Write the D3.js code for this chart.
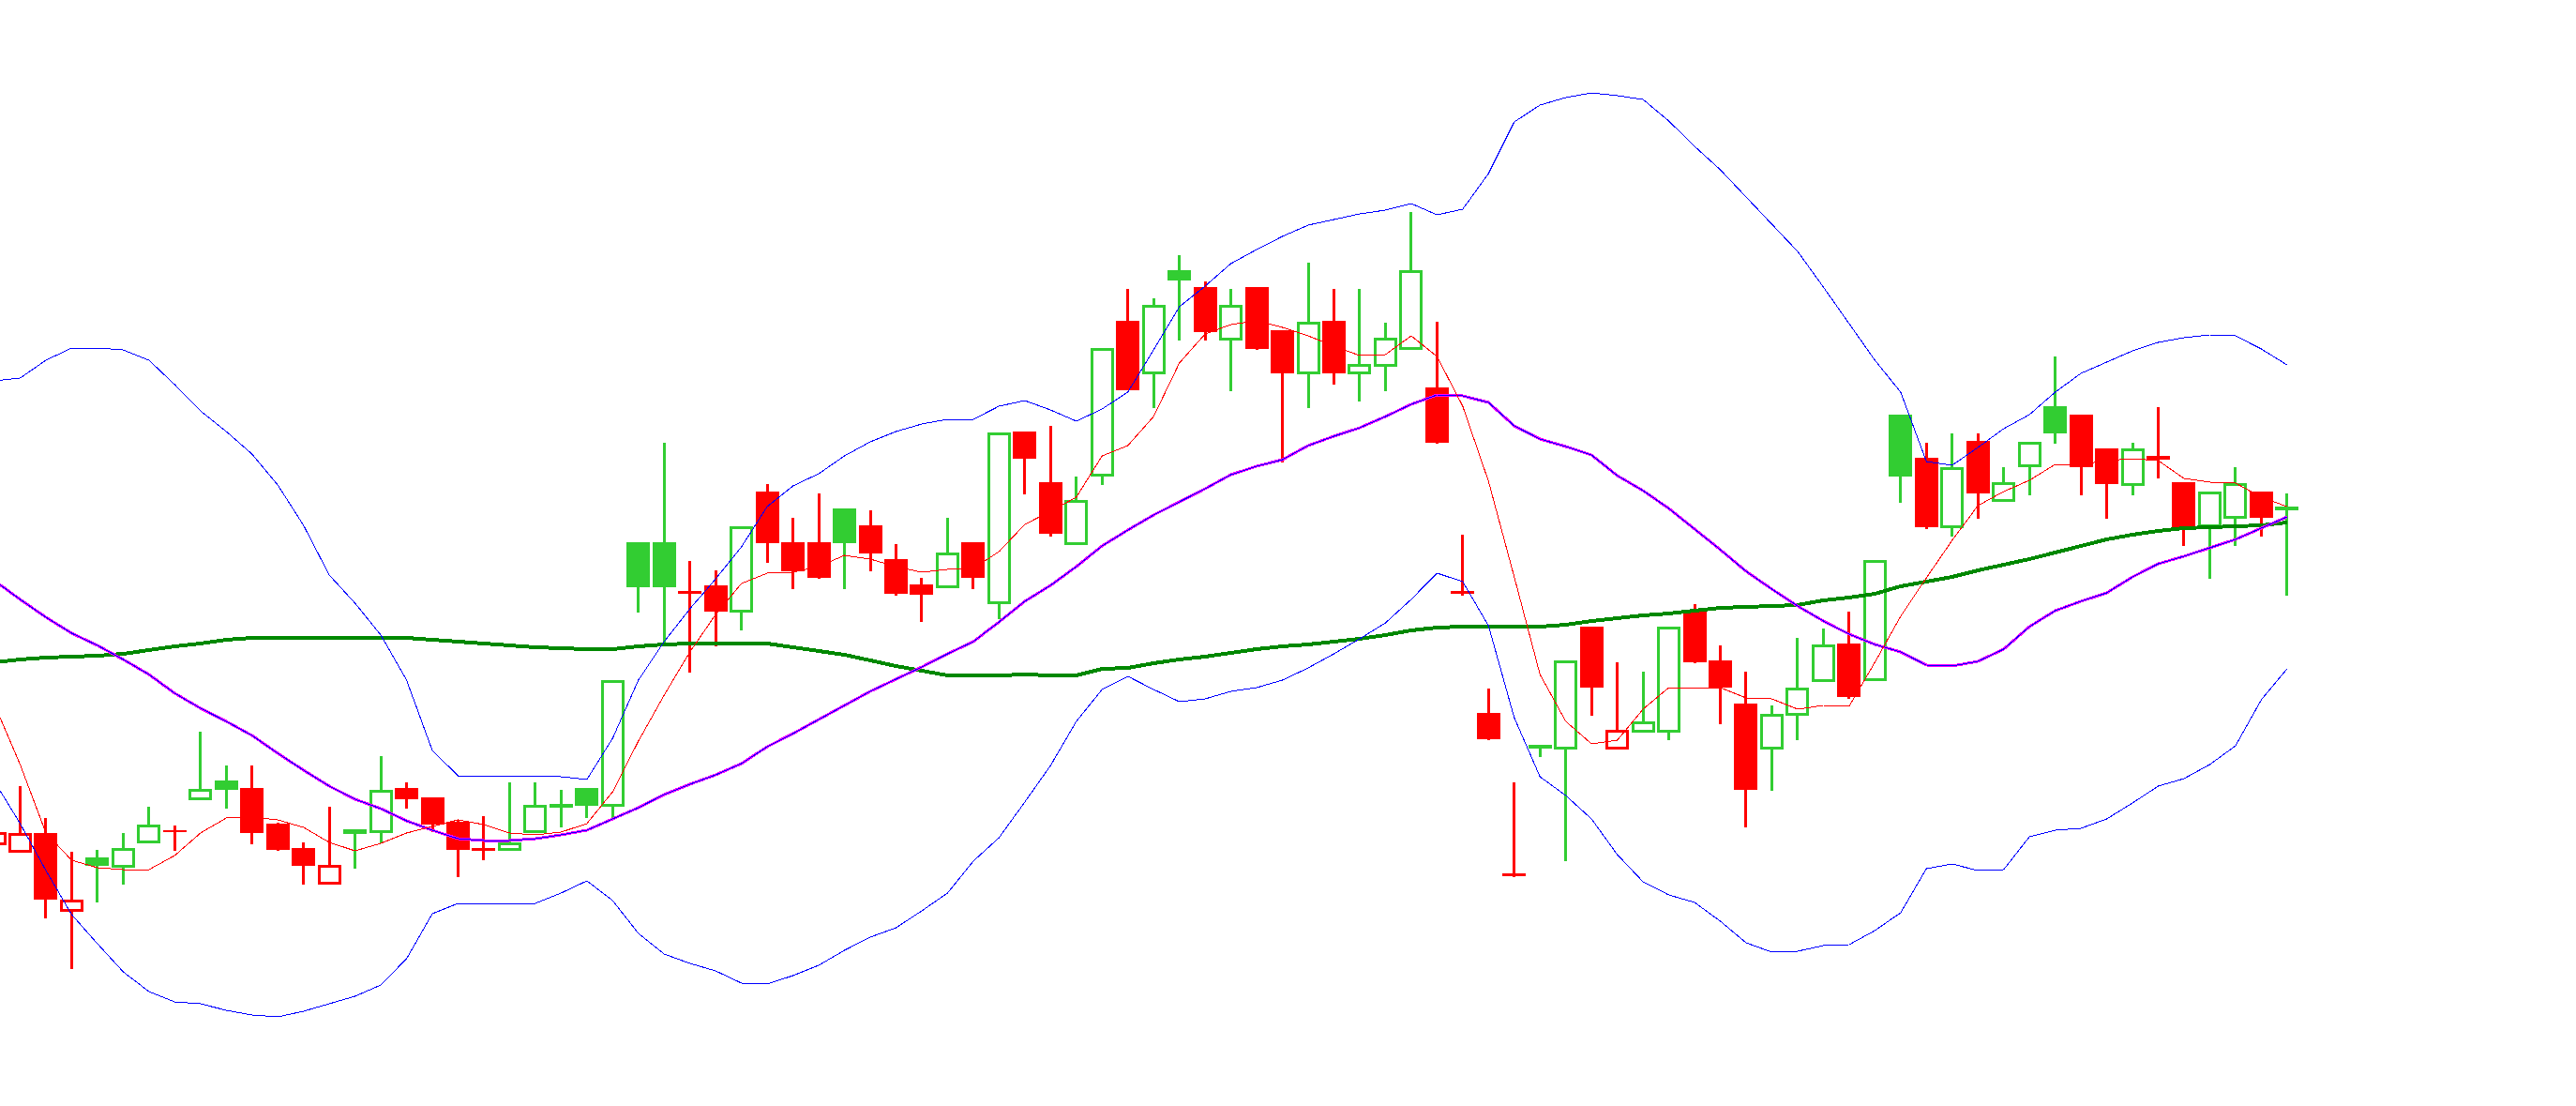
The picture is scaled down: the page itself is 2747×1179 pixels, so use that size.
<!DOCTYPE html>
<html><head><meta charset="utf-8">
<script src="https://cdn.jsdelivr.net/npm/d3@7"></script>
<style>html,body{margin:0;padding:0;background:#fff;overflow:hidden}</style>
</head><body>
<svg id="chart" width="2747" height="1179"></svg>
<script>
// ---- data (price units) ----
const priorClose = 31.40;
const opens = [30.10,29.30,31.20,23.00,28.60,27.65,30.25,31.50,34.85,36.80,
36.00,32.20,29.60,25.85,31.30,31.35,36.00,35.00,32.40,29.65,
29.45,31.35,34.05,36.00,34.15,62.20,62.20,57.00,57.60,54.85,
67.60,62.20,62.20,65.80,64.00,60.40,57.70,57.45,62.20,55.75,
74.00,68.60,62.05,69.35,85.80,80.25,91.20,89.40,83.85,89.40,
84.80,80.25,85.80,80.25,81.05,82.85,78.70,57.00,44.00,26.95,
40.35,40.25,53.20,40.25,42.05,42.05,54.90,49.60,45.00,40.25,
43.85,47.45,51.40,47.55,75.80,71.20,63.85,73.00,66.65,70.35,
76.70,75.80,72.20,68.35,71.40,68.60,63.95,64.85,67.60,65.75];
const highs = [31.40,36.20,32.80,29.20,29.40,31.20,34.00,32.00,42.00,38.40,
38.40,32.30,30.20,34.00,31.45,39.40,36.60,35.00,32.50,33.00,
36.60,36.60,35.80,36.00,47.50,62.20,72.80,60.20,59.20,63.90,
68.40,64.80,67.40,65.80,65.60,62.00,58.40,64.80,62.20,73.90,
74.00,74.60,69.20,82.90,89.20,88.20,92.80,90.00,89.20,89.40,
84.80,92.00,89.20,89.20,85.60,97.40,85.70,63.00,46.60,36.60,
40.60,49.60,53.20,49.40,48.40,53.20,55.60,51.20,48.40,44.80,
52.00,53.00,54.80,60.30,75.80,72.80,73.80,73.80,70.20,72.90,
82.00,75.80,72.20,72.80,76.60,68.60,67.60,70.20,67.60,67.40];
const lows = [29.90,29.30,22.10,16.70,23.80,25.70,30.10,29.30,34.70,33.80,
30.00,29.30,25.70,25.70,27.40,30.10,33.80,31.30,26.50,28.30,
29.30,31.20,31.80,32.80,32.80,54.70,51.30,48.30,51.10,52.80,
60.00,57.20,58.30,57.20,59.10,56.50,53.70,57.30,57.20,54.00,
67.30,62.80,61.90,68.30,78.40,76.50,83.70,83.70,78.30,82.70,
70.70,76.50,79.00,77.20,78.30,82.70,72.70,56.50,41.10,26.50,
39.30,28.20,43.70,40.10,41.90,41.10,49.30,42.80,31.80,35.70,
41.10,47.30,45.50,47.40,66.40,63.60,62.80,64.70,66.50,67.20,
72.70,67.20,64.70,67.20,69.00,61.80,58.30,61.80,62.80,56.50];
const closes = [31.15,31.05,24.10,24.00,27.70,29.45,31.95,31.30,35.78,35.83,
31.20,29.40,27.70,27.62,31.45,35.65,34.80,32.10,29.40,29.35,
30.05,34.10,34.12,34.14,47.35,57.40,57.45,56.70,54.80,63.75,
62.10,59.10,58.40,62.10,61.00,56.70,56.65,60.95,58.40,73.75,
71.10,63.10,66.55,82.75,78.40,87.35,90.10,84.60,87.35,82.80,
80.20,85.55,80.20,81.05,83.85,91.05,72.80,56.70,41.20,26.65,
40.50,49.45,46.70,42.05,42.95,53.05,49.40,46.70,35.80,43.75,
46.55,51.15,45.70,60.15,69.20,63.80,70.05,67.40,68.45,72.75,
73.80,70.20,68.40,72.05,71.00,63.80,67.45,68.35,64.80,65.90];
const upperBand = [79.4,79.7,81.6,82.9,82.9,82.7,81.6,79.0,76.2,74.0,
71.6,68.3,64.0,58.7,55.7,52.3,47.5,40.0,37.3,37.3,
37.3,37.3,37.2,36.9,41.3,47.5,51.6,55.1,58.3,61.7,
66.0,68.2,69.5,71.4,72.9,74.0,74.8,75.3,75.3,76.7,
77.3,76.3,75.1,76.4,78.2,82.7,87.3,89.5,91.9,93.4,
94.8,96.0,96.6,97.2,97.6,98.3,97.1,97.7,101.5,107.0,
108.8,109.6,110.1,109.8,109.4,107.1,104.4,101.9,99.0,96.1,
93.2,89.4,85.5,81.6,78.2,70.8,70.4,72.3,74.3,75.8,
78.2,80.2,81.4,82.6,83.5,84.0,84.3,84.2,82.8,81.1];
const lowerBand = [36.7,32.2,27.2,22.5,19.4,16.4,14.3,13.2,13.0,12.3,
11.8,11.6,12.2,13.0,13.8,15.0,17.8,22.6,23.7,23.7,
23.7,23.7,24.8,26.1,24.0,20.5,18.3,17.3,16.5,15.2,
15.1,16.0,17.1,18.7,20.1,21.1,22.9,24.8,28.2,30.7,
34.5,38.4,43.1,46.5,47.9,46.5,45.2,45.5,46.3,46.7,
47.5,48.8,50.3,51.9,53.6,56.1,58.9,58.0,53.3,43.5,
37.2,35.2,32.7,28.9,26.0,24.6,23.8,21.8,19.5,18.5,
18.6,19.2,19.3,20.8,22.7,27.4,27.9,27.2,27.3,30.8,
31.5,31.7,32.7,34.4,36.2,37.0,38.5,40.5,45.4,48.7];
const middleBand = [58.1,56.1,54.2,52.5,51.2,49.7,48.1,46.1,44.5,43.1,
41.6,39.7,37.9,36.2,34.8,33.8,32.5,31.5,30.6,30.4,
30.4,30.6,31.0,31.5,32.7,33.9,35.3,36.4,37.4,38.6,
40.4,41.8,43.3,44.8,46.3,47.6,48.9,50.3,51.6,53.7,
55.9,57.6,59.6,61.8,63.5,65.1,66.5,67.9,69.4,70.3,
71.0,72.5,73.5,74.4,75.6,76.9,77.9,77.8,77.1,74.6,
73.2,72.4,71.5,69.3,67.7,65.8,63.6,61.4,59.1,57.2,
55.4,53.8,52.4,51.3,50.5,49.1,49.0,49.5,50.8,53.2,
54.9,55.9,56.8,58.5,59.9,60.7,61.6,62.5,63.7,64.9];
const maSlow = [49.4,49.7,49.9,50.0,50.1,50.3,50.7,51.1,51.4,51.8,
52.0,52.0,52.0,52.0,52.0,52.0,52.0,51.8,51.6,51.4,
51.2,51.0,50.9,50.8,50.8,51.1,51.3,51.4,51.4,51.4,
51.4,51.0,50.6,50.2,49.6,49.0,48.5,48.0,48.0,48.0,
48.1,48.0,48.0,48.7,48.8,49.3,49.7,50.0,50.4,50.8,
51.1,51.3,51.6,51.9,52.3,52.8,53.1,53.2,53.2,53.2,
53.2,53.4,53.8,54.1,54.4,54.6,54.9,55.2,55.3,55.4,
55.5,56.0,56.3,56.7,57.5,58.0,58.5,59.2,59.8,60.4,
61.1,61.8,62.5,63.0,63.4,63.7,63.8,63.9,64.0,64.3];
const maFast = [44.9,38.5,31.2,28.3,27.5,27.3,27.3,28.8,31.2,32.8,
32.9,32.6,31.8,30.2,29.3,30.1,31.2,31.9,32.6,32.1,
31.2,31.0,31.3,32.2,35.6,41.0,45.9,50.5,54.5,57.8,
58.9,59.0,59.6,60.8,60.4,59.6,59.0,59.3,59.4,61.2,
64.1,65.5,67.0,71.4,72.5,75.6,81.3,84.4,85.4,85.8,
85.1,84.2,83.1,82.1,82.2,84.2,82.0,76.7,68.7,58.5,
48.1,43.1,40.7,41.1,44.4,46.7,46.7,46.7,45.6,45.5,
44.4,44.8,44.7,49.4,54.3,58.4,62.4,66.1,67.6,68.8,
70.5,70.5,70.9,71.1,70.9,69.0,68.6,68.5,67.0,66.0];

// ---- drawing ----
const UP = "#32CD32", DOWN = "#FF0000";
const svg = d3.select("#chart");
const n = opens.length;
const x = d3.scaleBand().domain(d3.range(n)).range([-19.7, 2452.6]).padding(0);
const cx = i => x(i) + x.bandwidth() / 2;
const y = d3.scaleLinear().domain([0, 120]).range([1200, 0]);

const bars = opens.map((o, i) => ({
  i, o, h: highs[i], l: lows[i], c: closes[i],
  prev: i ? closes[i - 1] : priorClose
}));
bars.forEach(d => {
  d.color = d.c >= d.prev ? UP : DOWN;
  d.hollow = d.c > d.o;
});

const bodyW = x.bandwidth() * 0.91;
const gC = svg.append("g").attr("shape-rendering", "crispEdges");
const cg = gC.selectAll("g").data(bars).join("g");
cg.append("line")
  .attr("x1", d => cx(d.i)).attr("x2", d => cx(d.i))
  .attr("y1", d => y(d.h)).attr("y2", d => y(d.l))
  .attr("stroke", d => d.color).attr("stroke-width", 3);
cg.filter(d => !d.hollow).append("rect")
  .attr("x", d => cx(d.i) - bodyW / 2).attr("width", bodyW)
  .attr("y", d => y(Math.max(d.o, d.c)))
  .attr("height", d => Math.max(2, Math.abs(y(d.o) - y(d.c))))
  .attr("fill", d => d.color);
cg.filter(d => d.hollow).append("rect")
  .attr("x", d => cx(d.i) - (bodyW - 3) / 2).attr("width", bodyW - 3)
  .attr("y", d => y(d.c))
  .attr("height", d => Math.max(0.5, y(d.o) - y(d.c)))
  .attr("fill", "#fff").attr("stroke", d => d.color).attr("stroke-width", 3);

const line = d3.line().x((v, i) => cx(i)).y(v => y(v));
function drawLine(arr, color, w) {
  svg.append("path").datum(arr).attr("d", line)
    .attr("fill", "none").attr("stroke", color).attr("stroke-width", w)
    .attr("stroke-linejoin", "round").attr("shape-rendering", "crispEdges");
}
drawLine(maSlow, "#008800", 4);
drawLine(middleBand, "#FF00FF", 3);
drawLine(middleBand, "#0000FF", 1);
drawLine(upperBand, "#0000FF", 1);
drawLine(lowerBand, "#0000FF", 1);
drawLine(maFast, "#FF0000", 1);
</script>
</body></html>
